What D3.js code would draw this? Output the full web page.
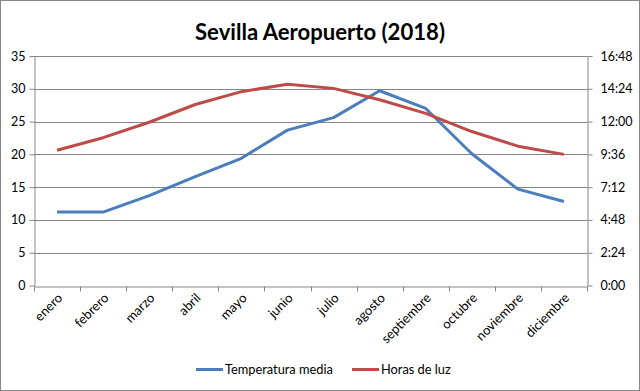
<!DOCTYPE html>
<html>
<head>
<meta charset="utf-8">
<script src="https://cdn.jsdelivr.net/npm/d3@7/dist/d3.min.js"></script>
<style>
  html, body { margin: 0; padding: 0; background: #fff; }
  svg { display: block; }
  text { font-family: Lato, "Open Sans", sans-serif; fill: #000; }
</style>
</head>
<body>
<svg id="chart" width="640" height="391"></svg>
<script>
const title = "Sevilla Aeropuerto (2018)";
const months = ["enero","febrero","marzo","abril","mayo","junio","julio","agosto","septiembre","octubre","noviembre","diciembre"];
const temperatura = [11.2, 11.2, 13.7, 16.6, 19.4, 23.7, 25.6, 29.7, 27.0, 20.1, 14.7, 12.8];
const horasLuz = [9.9, 10.82, 11.95, 13.25, 14.19, 14.73, 14.43, 13.6, 12.6, 11.27, 10.2, 9.6];
const leftTicks = [0, 5, 10, 15, 20, 25, 30, 35];
const rightTicks = [0, 2.4, 4.8, 7.2, 9.6, 12, 14.4, 16.8];
const seriesNames = ["Temperatura media", "Horas de luz"];
const colors = ["#4A7EBB", "#BE4B48"];

const svg = d3.select("#chart");
const W = 640, H = 391;
const plot = {left: 34, right: 587, top: 56, bottom: 285.5};
const grid = "#868686";

svg.append("rect").attr("x", 0.5).attr("y", 0.5).attr("width", W - 1).attr("height", H - 1)
  .attr("fill", "#fff").attr("stroke", "#868686");

const x = d3.scaleBand().domain(months).range([plot.left, plot.right]);
const yL = d3.scaleLinear().domain([0, 35]).range([plot.bottom, plot.top]);
const yR = d3.scaleLinear().domain([0, 16.8]).range([plot.bottom, plot.top]);

// gridlines
svg.append("g").selectAll("line").data(leftTicks.filter(d => d > 0)).join("line")
  .attr("x1", plot.left).attr("x2", plot.right)
  .attr("y1", d => Math.round(yL(d)) + 0.5).attr("y2", d => Math.round(yL(d)) + 0.5)
  .attr("stroke", grid).attr("stroke-width", 1);

// left axis
const gL = svg.append("g").attr("transform", `translate(${plot.left + 0.5},0)`)
  .call(d3.axisLeft(yL).tickValues(leftTicks).tickSize(5).tickSizeOuter(0).tickPadding(4));
// right axis
const fmtTime = h => { const m = Math.round(h * 60); return Math.floor(m / 60) + ":" + String(m % 60).padStart(2, "0"); };
const gR = svg.append("g").attr("transform", `translate(${plot.right + 0.5},0)`)
  .call(d3.axisRight(yR).tickValues(rightTicks).tickFormat(fmtTime).tickSize(5).tickSizeOuter(0).tickPadding(8));
// bottom axis
const gB = svg.append("g").attr("transform", `translate(0,${Math.round(plot.bottom) + 0.5})`)
  .call(d3.axisBottom(x).tickSize(0).tickSizeOuter(0).tickFormat(""));
// category boundary ticks
svg.append("g").selectAll("line").data(d3.range(months.length + 1)).join("line")
  .attr("x1", i => Math.round(plot.left + i * x.step()) + 0.5)
  .attr("x2", i => Math.round(plot.left + i * x.step()) + 0.5)
  .attr("y1", Math.round(plot.bottom) + 0.5).attr("y2", Math.round(plot.bottom) + 5.5)
  .attr("stroke", grid);

[gL, gR, gB].forEach(g => {
  g.selectAll(".domain").attr("stroke", grid);
  g.selectAll(".tick line").attr("stroke", grid);
  g.selectAll(".tick text").attr("font-size", 12.5).attr("font-family", "Lato, sans-serif").attr("fill", "#000");
});

// x labels rotated
svg.append("g").selectAll("text").data(months).join("text")
  .attr("transform", d => `translate(${x(d) + x.bandwidth() / 2 + 3},${plot.bottom + 10}) rotate(-45)`)
  .attr("text-anchor", "end").attr("dy", "0.35em")
  .attr("font-size", 13).text(d => d);

// lines
const cx = d => x(d) + x.bandwidth() / 2;
const lineT = d3.line().x((d, i) => cx(months[i])).y(d => yL(d));
const lineH = d3.line().x((d, i) => cx(months[i])).y(d => yR(d));
svg.append("path").datum(temperatura).attr("d", lineT).attr("fill", "none")
  .attr("stroke", colors[0]).attr("stroke-width", 3).attr("stroke-linejoin", "round");
svg.append("path").datum(horasLuz).attr("d", lineH).attr("fill", "none")
  .attr("stroke", colors[1]).attr("stroke-width", 3).attr("stroke-linejoin", "round");

// title
const t = svg.append("text").attr("x", 320).attr("y", 40).attr("text-anchor", "middle")
  .attr("font-weight", "bold").attr("font-size", 22).text(title);
const tw = t.node().getComputedTextLength();
t.attr("font-size", 22 * 250 / tw);

// legend
const legendX = [196, 352];
const lg = svg.append("g").selectAll("g").data(seriesNames).join("g")
  .attr("transform", (d, i) => `translate(${legendX[i]},369.5)`);
lg.append("line").attr("x1", 0).attr("x2", 27).attr("stroke", (d, i) => colors[i]).attr("stroke-width", 3);
lg.append("text").attr("x", 29).attr("dy", "0.35em").attr("font-size", 12.8).text(d => d);
</script>
</body>
</html>
